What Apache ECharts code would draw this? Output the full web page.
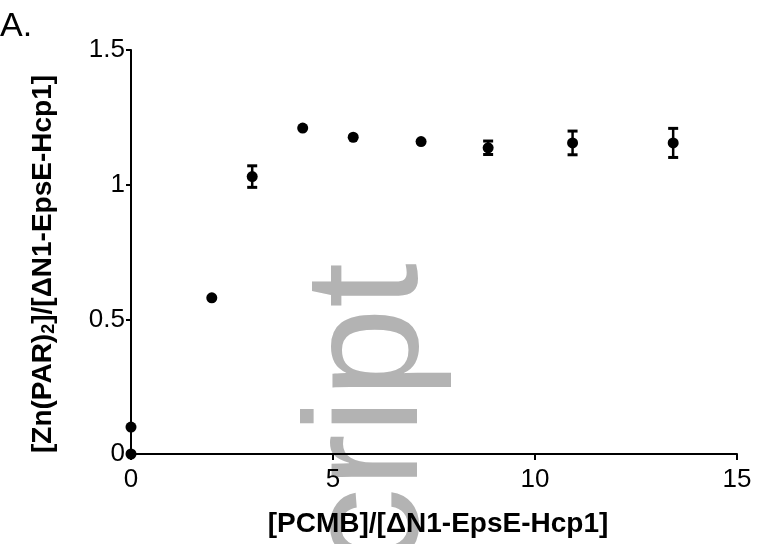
<!DOCTYPE html>
<html>
<head>
<meta charset="utf-8">
<script src="https://cdn.jsdelivr.net/npm/echarts@6/dist/echarts.min.js"></script>
<style>html,body{margin:0;padding:0;background:#fff}#c{width:757px;height:544px}</style>
</head>
<body>
<div id="c"></div>
<script>
// ---- data ----
var xValues = [0, 0, 2, 3, 4.25, 5.5, 7.18, 8.84, 10.93, 13.42];
var yValues = [0, 0.1, 0.58, 1.03, 1.21, 1.176, 1.16, 1.137, 1.155, 1.155];
var errValues = [0, 0, 0, 0.04, 0, 0, 0, 0.025, 0.044, 0.054];
var xTicks = [0, 5, 10, 15];
var yTicks = [0, 0.5, 1, 1.5];
var xTitle = '[PCMB]/[ΔN1-EpsE-Hcp1]';
var yTitleMain = '[Zn(PAR)';
var yTitleSub = '2';
var yTitleRest = ']/[ΔN1-EpsE-Hcp1]';
var panelLabel = 'A.';
var watermark = 'Manuscript';

var pts = xValues.map(function (x, i) { return [x, yValues[i]]; });
var errs = xValues.map(function (x, i) { return [x, yValues[i], errValues[i]]; }).filter(function (d) { return d[2] > 0; });

var FONT = '"Liberation Sans", Arial, Helvetica, sans-serif';
var chart = echarts.init(document.getElementById('c'), null, { renderer: 'canvas' });
chart.setOption({
  animation: false,
  backgroundColor: '#fff',
  graphic: [
    {
      type: 'text', z: -100, left: 0, top: 10,
      style: { text: panelLabel, font: '34px ' + FONT, fill: '#000' }
    },
    {
      type: 'text', z: -100, x: 372, y: 263, rotation: Math.PI / 2,
      style: { text: watermark, font: '162px ' + FONT, fill: '#b3b3b3', align: 'right', verticalAlign: 'middle' }
    }
  ],
  grid: { left: 131, right: 20, top: 50, bottom: 90, containLabel: false, outerBoundsMode: 'none' },
  xAxis: {
    type: 'value', min: xTicks[0], max: xTicks[xTicks.length - 1], interval: xTicks[1] - xTicks[0],
    splitLine: { show: false },
    axisLine: { show: true, onZero: false, lineStyle: { color: '#000', width: 2 } },
    axisTick: { show: true, length: 6, lineStyle: { color: '#000', width: 2 } },
    axisLabel: { color: '#000', fontSize: 26, fontFamily: FONT, margin: 13 },
    name: xTitle, nameLocation: 'middle', nameGap: 56,
    nameTextStyle: { color: '#000', fontSize: 28, fontWeight: 'bold', fontFamily: FONT, padding: [0, 0, 0, 8] }
  },
  yAxis: {
    type: 'value', min: yTicks[0], max: yTicks[yTicks.length - 1], interval: yTicks[1] - yTicks[0],
    splitLine: { show: false },
    axisLine: { show: true, onZero: false, lineStyle: { color: '#000', width: 2 } },
    axisTick: { show: true, length: 5, lineStyle: { color: '#000', width: 2 } },
    axisLabel: { color: '#000', fontSize: 26, fontFamily: FONT, margin: 6 },
    name: '{b|' + yTitleMain + '}{s|' + yTitleSub + '}{b|' + yTitleRest + '}',
    nameLocation: 'middle', nameGap: 73,
    nameTextStyle: {
      color: '#000', fontFamily: FONT, padding: [0, 24, 0, 0],
      rich: {
        b: { fontSize: 28, fontWeight: 'bold', fontFamily: FONT, color: '#000', lineHeight: 30 },
        s: { fontSize: 18, fontWeight: 'bold', fontFamily: FONT, color: '#000', lineHeight: 12, verticalAlign: 'bottom' }
      }
    }
  },
  series: [
    {
      type: 'custom',
      clip: false,
      z: 3,
      data: errs,
      renderItem: function (params, api) {
        var x = api.value(0), y = api.value(1), e = api.value(2);
        var top = api.coord([x, y + e]);
        var bot = api.coord([x, y - e]);
        var hw = 5;
        return {
          type: 'group',
          children: [
            { type: 'line', shape: { x1: top[0], y1: top[1], x2: bot[0], y2: bot[1] }, style: { stroke: '#000', lineWidth: 2.5 } },
            { type: 'line', shape: { x1: top[0] - hw, y1: top[1], x2: top[0] + hw, y2: top[1] }, style: { stroke: '#000', lineWidth: 3 } },
            { type: 'line', shape: { x1: bot[0] - hw, y1: bot[1], x2: bot[0] + hw, y2: bot[1] }, style: { stroke: '#000', lineWidth: 3 } }
          ]
        };
      }
    },
    {
      type: 'scatter',
      clip: false,
      z: 4,
      symbol: 'circle',
      symbolSize: 11,
      itemStyle: { color: '#000', opacity: 1 },
      data: pts
    }
  ]
});
</script>
</body>
</html>
